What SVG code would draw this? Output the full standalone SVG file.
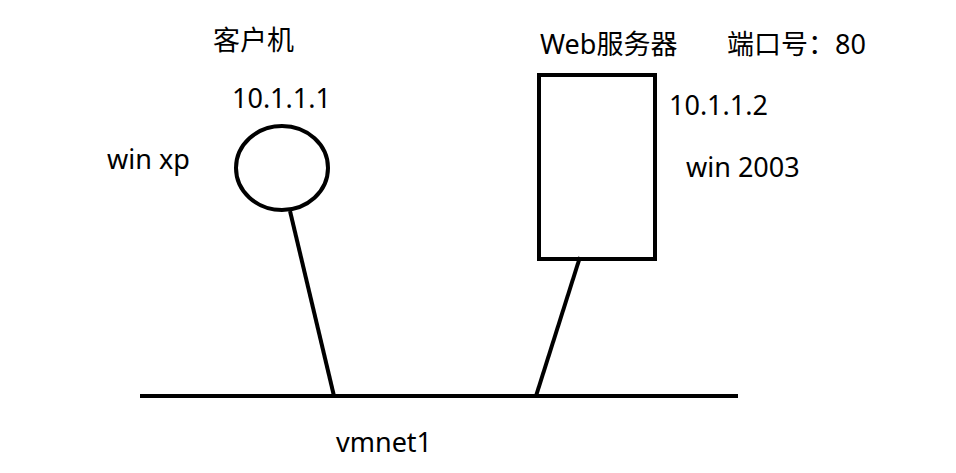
<svg xmlns="http://www.w3.org/2000/svg" width="956" height="473" viewBox="0 0 956 473">
<style>
text{font-family:"Noto Sans","Noto Sans CJK SC",sans-serif;font-size:27px;fill:#000}
.s{fill:none;stroke:#000;stroke-width:4}
</style>
<rect width="956" height="473" fill="#fff"/>
<g id="client">
<ellipse class="s" cx="282" cy="168" rx="46" ry="42"/>
<text x="213" y="50">客户机</text>
<text x="232" y="108">10.1.1.1</text>
<text x="107" y="169">win xp</text>
</g>
<g id="server">
<rect class="s" x="539" y="75" width="116" height="184"/>
<text x="540" y="54">Web服务器</text>
<text x="727" y="54">端口号：80</text>
<text x="669" y="115">10.1.1.2</text>
<text x="686" y="177">win 2003</text>
</g>
<g id="network">
<text x="336" y="452">vmnet1</text>
</g>
<g id="connectors">
<line class="s" x1="140" y1="396" x2="738" y2="396"/>
<line class="s" x1="290" y1="211" x2="334" y2="396"/>
<line class="s" x1="580" y1="257" x2="536" y2="396"/>
</g>
</svg>
